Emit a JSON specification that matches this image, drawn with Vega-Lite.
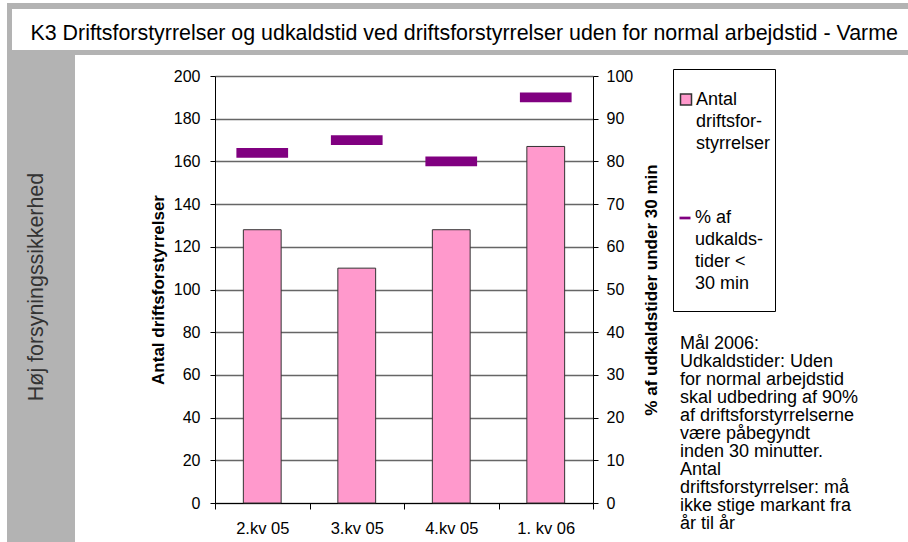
{
  "$schema": "https://vega.github.io/schema/vega-lite/v6.json",
  "padding": {"left": 7, "top": 3, "right": 0, "bottom": 0},
  "background": "white",
  "config": {
    "view": {"stroke": null},
    "font": "Liberation Sans",
    "style": {"guide-label": {"lineHeight": 22}}
  },
  "spacing": 0,
  "bounds": "flush",
  "vconcat": [
    {
      "width": 901,
      "height": 52,
      "view": {"fill": "#b3b3b3", "stroke": null},
      "data": {"values": [{"t": "K3 Driftsforstyrrelser og udkaldstid ved driftsforstyrrelser uden for normal arbejdstid - Varme"}]},
      "layer": [
        {
          "mark": {"type": "rect", "x": 5, "x2": 901, "y": 6, "y2": 47, "color": "white"},
          "encoding": {}
        },
        {
          "mark": {"type": "text", "align": "left", "baseline": "middle", "fontSize": 21.4, "color": "#000000", "font": "Liberation Sans", "x": 23.5, "y": 30.5},
          "encoding": {"text": {"field": "t", "type": "nominal"}}
        }
      ]
    },
    {
      "spacing": 140,
      "bounds": "flush",
      "hconcat": [
        {
          "width": 68,
          "height": 487,
          "view": {"fill": "#b3b3b3", "stroke": null},
          "data": {"values": [{"t": "Høj forsyningssikkerhed"}]},
          "mark": {"type": "text", "angle": 270, "align": "center", "baseline": "alphabetic", "fontSize": 21.4, "color": "#333333", "font": "Liberation Sans", "x": 36, "y": 232},
          "encoding": {"text": {"field": "t", "type": "nominal"}}
        },
        {
          "spacing": 87,
          "bounds": "flush",
          "hconcat": [
            {
              "width": 378,
              "height": 448,
              "data": {"values": [
                {"kv": "2.kv 05", "antal": 128, "pct": 82},
                {"kv": "3.kv 05", "antal": 110, "pct": 85},
                {"kv": "4.kv 05", "antal": 128, "pct": 80},
                {"kv": "1. kv 06", "antal": 167, "pct": 95}
              ]},
              "encoding": {
                "x": {
                  "field": "kv", "type": "nominal", "sort": null,
                  "scale": {"paddingInner": 0, "paddingOuter": 0},
                  "axis": {
                    "title": null, "orient": "bottom", "tickBand": "extent", "labelAngle": 0,
                    "domainColor": "#000000", "tickColor": "#000000", "tickSize": 6,
                    "labelFontSize": 16.5, "labelColor": "#000000", "labelFont": "Liberation Sans",
                    "labelPadding": 11, "grid": false
                  }
                }
              },
              "layer": [
                {
                  "mark": {"type": "bar", "width": {"band": 0.4}, "stroke": "#333333", "strokeWidth": 1},
                  "encoding": {
                    "y": {
                      "field": "antal", "type": "quantitative",
                      "scale": {"domain": [0, 200], "range": [448, 21], "nice": false},
                      "axis": {
                        "orient": "left", "values": [0, 20, 40, 60, 80, 100, 120, 140, 160, 180, 200],
                        "title": "Antal driftsforstyrrelser", "titleFontSize": 17, "titleFontWeight": "bold",
                        "titleColor": "#000000", "titleFont": "Liberation Sans", "titlePadding": 6,
                        "grid": true, "gridColor": "#666666", "gridWidth": 1.5,
                        "domainColor": "#000000", "tickColor": "#000000", "tickSize": 5,
                        "labelFontSize": 16, "labelColor": "#000000", "labelFont": "Liberation Sans", "labelPadding": 10
                      }
                    },
                    "color": {
                      "datum": "Antal driftsforstyrrelser", "type": "nominal",
                      "scale": {"domain": ["Antal driftsforstyrrelser"], "range": ["#ff99cc"]},
                      "legend": {
                        "orient": "none", "legendX": 666, "legendY": 66,
                        "title": " ", "titleFontSize": 10, "titlePadding": 7.5,
                        "strokeColor": "#000000", "padding": 4,
                        "labelFont": "Liberation Sans", "labelFontSize": 18, "labelColor": "#000000",
                        "labelOffset": 1, "labelLimit": 300, "symbolSize": 121, "symbolType": "square",
                        "labelBaseline": "middle",
                        "labelExpr": "['Antal', 'driftsfor-', 'styrrelser', '', '', '', '', '', '', '']"
                      }
                    }
                  }
                },
                {
                  "mark": {"type": "tick", "orient": "horizontal", "size": 49, "thickness": 7, "opacity": 1, "color": "#800080", "strokeWidth": 2.7},
                  "encoding": {
                    "y": {
                      "field": "pct", "type": "quantitative",
                      "scale": {"domain": [0, 100], "range": [448, 21], "nice": false},
                      "axis": {
                        "orient": "right", "values": [0, 10, 20, 30, 40, 50, 60, 70, 80, 90, 100],
                        "title": "% af udkaldstider under 30 min", "titleFontSize": 17, "titleFontWeight": "bold",
                        "titleColor": "#000000", "titleFont": "Liberation Sans", "titlePadding": 11,
                        "titleAngle": 270, "titleBaseline": "top",
                        "grid": false, "domainColor": "#000000", "tickColor": "#000000", "tickSize": 5,
                        "labelFontSize": 16, "labelColor": "#000000", "labelFont": "Liberation Sans", "labelPadding": 8
                      }
                    },
                    "stroke": {
                      "datum": "% af udkaldstider < 30 min", "type": "nominal",
                      "scale": {"domain": ["% af udkaldstider < 30 min"], "range": ["#800080"]},
                      "legend": {
                        "orient": "none", "legendX": 669, "legendY": 206,
                        "title": null, "padding": 0,
                        "labelFont": "Liberation Sans", "labelFontSize": 18, "labelColor": "#000000",
                        "labelOffset": 1, "labelLimit": 300, "symbolSize": 121, "symbolType": "stroke",
                        "symbolStrokeWidth": 2.7,
                        "labelBaseline": "middle",
                        "labelExpr": "['% af', 'udkalds-', 'tider <', '30 min']"
                      }
                    }
                  }
                }
              ],
              "resolve": {"scale": {"y": "independent"}, "axis": {"y": "independent"}}
            },
            {
              "width": 200,
              "height": 448,
              "data": {"values": [{"note": "Mål 2006:\nUdkaldstider: Uden\nfor normal arbejdstid\nskal udbedring af 90%\naf driftsforstyrrelserne\nvære påbegyndt\ninden 30 minutter.\nAntal\ndriftsforstyrrelser: må\nikke stige markant fra\når til år"}]},
              "mark": {"type": "text", "align": "left", "baseline": "alphabetic", "lineBreak": "\n", "lineHeight": 18, "fontSize": 18, "color": "#000000", "font": "Liberation Sans", "x": 0, "y": 294},
              "encoding": {"text": {"field": "note", "type": "nominal"}}
            }
          ]
        }
      ]
    }
  ]
}
